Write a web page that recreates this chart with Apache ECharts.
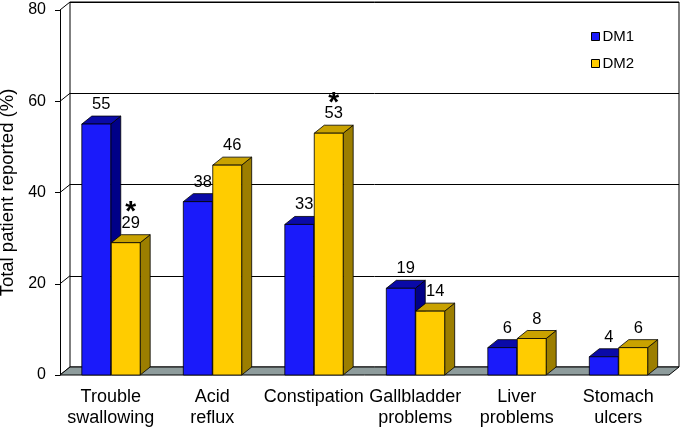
<!DOCTYPE html>
<html><head><meta charset="utf-8">
<script src="https://cdn.jsdelivr.net/npm/echarts@6/dist/echarts.min.js"></script>
<style>html,body{margin:0;padding:0;background:#fff}#c{width:682px;height:431px}</style>
</head><body><div id="c"></div>
<script>
const categories = ['Trouble\nswallowing', 'Acid\nreflux', 'Constipation', 'Gallbladder\nproblems', 'Liver\nproblems', 'Stomach\nulcers'];
const dm1 = [55, 38, 33, 19, 6, 4];
const dm2 = [29, 46, 53, 14, 8, 6];
const dm2Significant = [true, false, true, false, false, false];
const yTicks = [0, 20, 40, 60, 80];

const FONT = 'Liberation Sans, Arial, sans-serif';
const DX = 10, DY = -8;
const BLUE = {front: '#1a1afa', top: '#0a0aa8', side: '#000088'};
const GOLD = {front: '#ffcc00', top: '#c9a200', side: '#9c7e00'};

function barRender(side, col, marks) {
  return function (params, api) {
    const cat = api.value(0), v = api.value(1);
    const base = api.coord([cat, 0]);
    const top = api.coord([cat, v]);
    const band = api.size([1, 0])[0];
    const w = band * 0.285;
    const x0 = side < 0 ? base[0] - w : base[0] + 0.5;
    const x1 = x0 + w;
    const y0 = top[1], y1 = base[1];
    const stroke = {stroke: '#000', lineWidth: 0.8};
    const children = [
      {type: 'polygon', shape: {points: [[x1, y0], [x1 + DX, y0 + DY], [x1 + DX, y1 + DY], [x1, y1]]}, style: Object.assign({fill: col.side}, stroke)},
      {type: 'polygon', shape: {points: [[x0, y0], [x1, y0], [x1 + DX, y0 + DY], [x0 + DX, y0 + DY]]}, style: Object.assign({fill: col.top}, stroke)},
      {type: 'rect', shape: {x: x0, y: y0, width: w, height: y1 - y0}, style: Object.assign({fill: col.front}, stroke)},
      {type: 'text', style: {text: String(v), x: (x0 + x1) / 2 + DX / 2, y: y0 + DY - 3, textAlign: 'center', textVerticalAlign: 'bottom', fontSize: 16.5, fontFamily: FONT, fill: '#000'}}
    ];
    if (marks && marks[params.dataIndex]) {
      children.push({type: 'text', style: {text: '*', x: (x0 + x1) / 2 + DX / 2, y: y0 + DY - 8, textAlign: 'center', textVerticalAlign: 'bottom', fontSize: 28, fontWeight: 'bold', fontFamily: FONT, fill: '#000'}});
    }
    return {type: 'group', children: children};
  };
}

const chart = echarts.init(document.getElementById('c'), null, {renderer: 'canvas'});
chart.setOption({
  animation: false,
  backgroundColor: '#fff',
  textStyle: {fontFamily: FONT},
  legend: {
    data: ['DM1', 'DM2'], orient: 'vertical', left: 586, top: 24,
    icon: 'rect', itemWidth: 8, itemHeight: 8, itemGap: 12,
    itemStyle: {borderColor: '#000', borderWidth: 1},
    textStyle: {fontSize: 15, fontFamily: FONT, color: '#000', padding: [0, 0, 0, -2]}
  },
  grid: [
    {left: 60, top: 10, width: 609, height: 365, outerBoundsMode: 'none', containLabel: false},
    {left: 70, top: 2, width: 609, height: 365, outerBoundsMode: 'none', containLabel: false, show: true, borderColor: '#000', borderWidth: 1, backgroundColor: '#fff', z: -1}
  ],
  xAxis: [
    {type: 'category', gridIndex: 0, data: categories, axisLine: {show: false}, axisTick: {show: false},
     axisLabel: {fontSize: 18, fontFamily: FONT, color: '#000', lineHeight: 21, margin: 12, interval: 0}},
    {type: 'category', gridIndex: 1, data: categories, show: false}
  ],
  yAxis: [
    {type: 'value', gridIndex: 0, min: 0, max: 80, interval: 20,
     name: 'Total patient reported (%)', nameLocation: 'middle', nameGap: 41, nameRotate: 90,
     nameTextStyle: {fontSize: 18.5, fontFamily: FONT, color: '#000'},
     axisLine: {show: true, lineStyle: {color: '#000', width: 1}},
     axisTick: {show: true, length: 5, lineStyle: {color: '#000'}},
     axisLabel: {fontSize: 16, fontFamily: FONT, color: '#000', margin: 14},
     splitLine: {show: false}},
    {type: 'value', gridIndex: 1, min: 0, max: 80, interval: 20,
     axisLine: {show: false}, axisTick: {show: false}, axisLabel: {show: false},
     splitLine: {show: true, lineStyle: {color: '#000', width: 1}}}
  ],
  series: [
    {type: 'custom', name: 'wall', xAxisIndex: 0, yAxisIndex: 0, z: 1, silent: true,
     data: yTicks.map(t => [0, t]),
     renderItem: function (params, api) {
       const cs = params.coordSys;
       const y = api.coord([0, api.value(1)])[1];
       return {type: 'line', shape: {x1: cs.x, y1: y, x2: cs.x + DX, y2: y + DY}, style: {stroke: '#000', lineWidth: 1}};
     }},
    {type: 'custom', name: 'floor', xAxisIndex: 0, yAxisIndex: 0, z: 1, silent: true,
     data: [[0, 0]],
     renderItem: function (params, api) {
       const cs = params.coordSys;
       const y = api.coord([0, 0])[1];
       return {type: 'polygon', shape: {points: [[cs.x, y], [cs.x + cs.width, y], [cs.x + cs.width + DX, y + DY], [cs.x + DX, y + DY]]},
               style: {fill: '#8e9c9c', stroke: '#000', lineWidth: 1}};
     }},
    {type: 'custom', name: 'DM1', xAxisIndex: 0, yAxisIndex: 0, z: 3,
     itemStyle: {color: BLUE.front},
     data: dm1.map((v, i) => [i, v]),
     renderItem: barRender(-1, BLUE, null)},
    {type: 'custom', name: 'DM2', xAxisIndex: 0, yAxisIndex: 0, z: 4,
     itemStyle: {color: GOLD.front},
     data: dm2.map((v, i) => [i, v]),
     renderItem: barRender(1, GOLD, dm2Significant)}
  ]
});
</script></body></html>
